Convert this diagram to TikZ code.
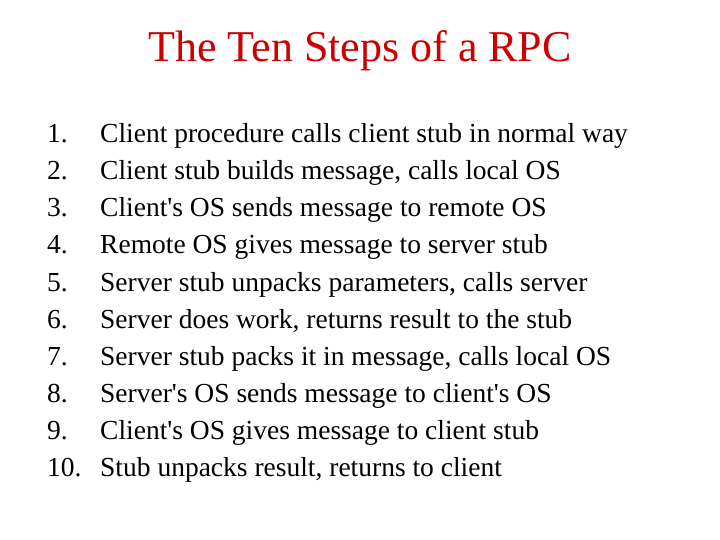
\documentclass[tikz,border=0pt]{standalone}
\usepackage{fontspec}
\setmainfont{Liberation Serif}[Ligatures=TeXOff]
\begin{document}
\begin{tikzpicture}[x=1pt,y=1pt,
  num/.style={anchor=base west,inner sep=0,font=\fontsize{27.5}{33}\selectfont},
  item/.style={anchor=base west,inner sep=0,font=\fontsize{27.5}{33}\selectfont}]
\useasboundingbox (0,0) rectangle (720,-540);
\node[anchor=base,inner sep=0,text={rgb,255:red,204;green,0;blue,0},font=\fontsize{44}{52}\selectfont] (title) at (360,-62) {The Ten Steps of a RPC};
\foreach \n/\t [count=\i] in {1./Client procedure calls client stub in normal way,
 2./{Client stub builds message, calls local OS},
 3./Client's OS sends message to remote OS,
 4./Remote OS gives message to server stub,
 5./{Server stub unpacks parameters, calls server},
 6./{Server does work, returns result to the stub},
 7./{Server stub packs it in message, calls local OS},
 8./Server's OS sends message to client's OS,
 9./Client's OS gives message to client stub,
 10./{Stub unpacks result, returns to client}}{
  \node[num] (n\i) at (47,{-143-37*(\i-1)}) {\n};
  \node[item] (t\i) at (100,{-143-37*(\i-1)}) {\t};
}
\end{tikzpicture}
\end{document}
